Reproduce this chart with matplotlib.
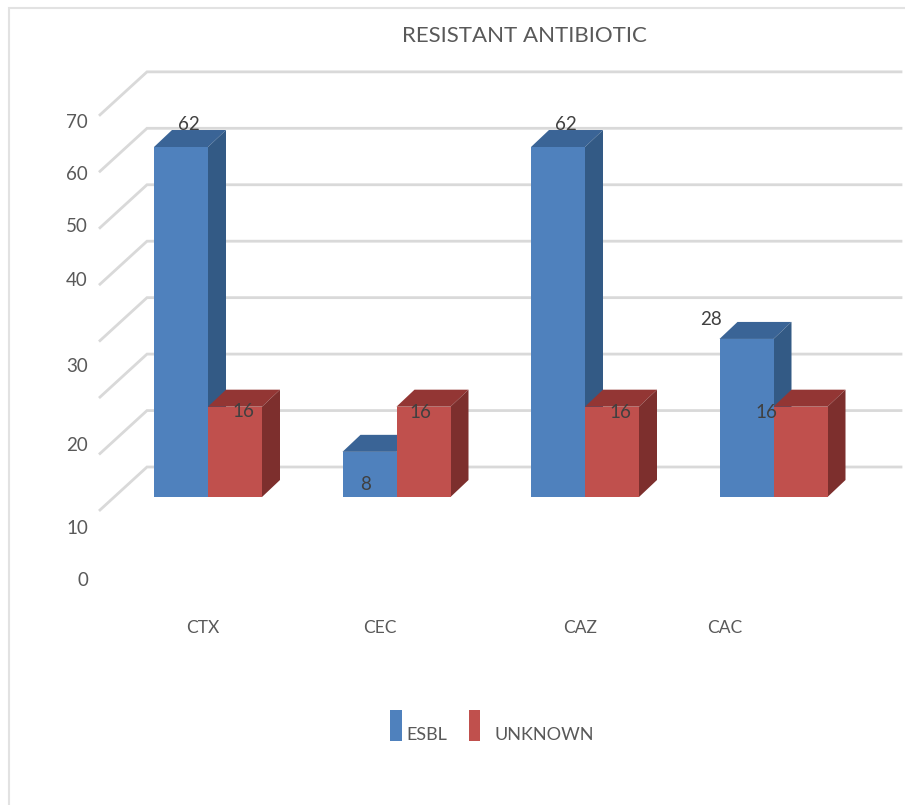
#!/usr/bin/env python3
# -*- coding: utf-8 -*-
import matplotlib
matplotlib.use('Agg')
import matplotlib.pyplot as plt
from matplotlib.patches import Rectangle
from matplotlib.lines import Line2D

plt.rcParams['font.family'] = ['Lato', 'DejaVu Sans']

' _____________ data _________________________________________________________ '

categories = ['CTX', 'CEC', 'CAZ', 'CAC']
esbl = [62, 8, 62, 28]
unknown = [16, 16, 16, 16]
y_ticks = [0, 10, 20, 30, 40, 50, 60, 70]

' _____________ layout (pixels of the 905x805 picture) _______________________ '

W, H = 905, 805
px_per_unit = 5.645             # one value unit on the y scale
px_per_cat = 188.5              # distance between categories
first_cat_px = 208              # x of the first category
base_px = 497                   # y of value 0 at the bars' front face

bar_w = 54 / px_per_cat
depth_x = 18 / px_per_cat       # bar depth
depth_y = 17 / px_per_unit

wall_left = (100 - first_cat_px) / px_per_cat
wall_back = (147 - first_cat_px) / px_per_cat
wall_right = (901 - first_cat_px) / px_per_cat
wall_front_y = (base_px - 510) / px_per_unit
wall_back_y = (base_px - 467) / px_per_unit

col_grid = '#D9D9D9'
col_frame = '#E2E2E2'
col_text = '#595959'
blue = ('#4F81BD', '#335A85', '#3A6496')    # front, side, top
red = ('#C0504D', '#7D2F2D', '#933634')

# tick labels were placed unevenly in the original
ytick_px = [580, 528, 445, 366, 281, 227, 174, 123]
cat_label_px = [203, 380, 580, 725]
esbl_offsets = [(8, 23), (-4, -33), (8, 23), (-36, 19)]
unknown_offsets = [(8, -5), (-3, -6), (8, -6), (-34, -6)]

' _____________ plot _________________________________________________________ '

fig = plt.figure(figsize=(W / 100, H / 100), dpi=100)
ax = fig.add_axes([0, 0, 1, 1])
ax.set_xlim(-first_cat_px / px_per_cat, (W - first_cat_px) / px_per_cat)
ax.set_ylim((base_px - H) / px_per_unit, base_px / px_per_unit)
ax.axis('off')


def fig_text(x, y, s, **kw):
    fig.text(x / W, 1 - y / H, s, color=col_text, va='center', **kw)


def bar3d(x_left, val, cols):
    x_right = x_left + bar_w
    ax.fill([x_left, x_left + depth_x, x_right + depth_x, x_right],
            [val, val + depth_y, val + depth_y, val],
            color=cols[2], lw=0, zorder=3)
    ax.fill([x_right, x_right + depth_x, x_right + depth_x, x_right],
            [0, depth_y, val + depth_y, val],
            color=cols[1], lw=0, zorder=3)
    ax.bar(x_left, val, bar_w, align='edge', color=cols[0], lw=0, zorder=3)


for tick in y_ticks:
    ax.plot([wall_left, wall_back, wall_right],
            [tick + wall_front_y, tick + wall_back_y, tick + wall_back_y],
            color=col_grid, lw=2, solid_joinstyle='miter', zorder=1)

for idx, cat in enumerate(categories):
    bar3d(idx - bar_w, esbl[idx], blue)
    bar3d(idx, unknown[idx], red)
    ax.annotate(str(esbl[idx]), xy=(idx - bar_w / 2, esbl[idx]),
                xytext=esbl_offsets[idx], textcoords='offset pixels',
                ha='center', va='center', fontsize=13.5, color='#404040', zorder=5)
    ax.annotate(str(unknown[idx]), xy=(idx + bar_w / 2, unknown[idx]),
                xytext=unknown_offsets[idx], textcoords='offset pixels',
                ha='center', va='center', fontsize=13.5, color='#404040', zorder=5)
    fig_text(cat_label_px[idx], 628, cat, ha='center', fontsize=12.5)

for tick, y_px in zip(y_ticks, ytick_px):
    fig_text(88, y_px, str(tick), ha='right', fontsize=13.5)

fig_text(524, 36, 'RESISTANT ANTIBIOTIC', ha='center', fontsize=16)

' legend, drawn by hand since the swatches are tall and uneven '
fig.add_artist(Rectangle((390 / W, 1 - 741 / H), 12 / W, 31 / H, color=blue[0], lw=0))
fig.add_artist(Rectangle((469 / W, 1 - 741 / H), 11 / W, 31 / H, color=red[0], lw=0))
fig_text(406, 735, 'ESBL', ha='left', fontsize=13)
fig_text(494, 735, 'UNKNOWN', ha='left', fontsize=13)

' faint frame of the chart area, left and top only are visible '
fig.add_artist(Line2D([8.5 / W, 8.5 / W, 1], [0, 1 - 8.5 / H, 1 - 8.5 / H],
                      color=col_frame, lw=1.5, solid_joinstyle='miter'))

fig.savefig('out.png', dpi=100)
